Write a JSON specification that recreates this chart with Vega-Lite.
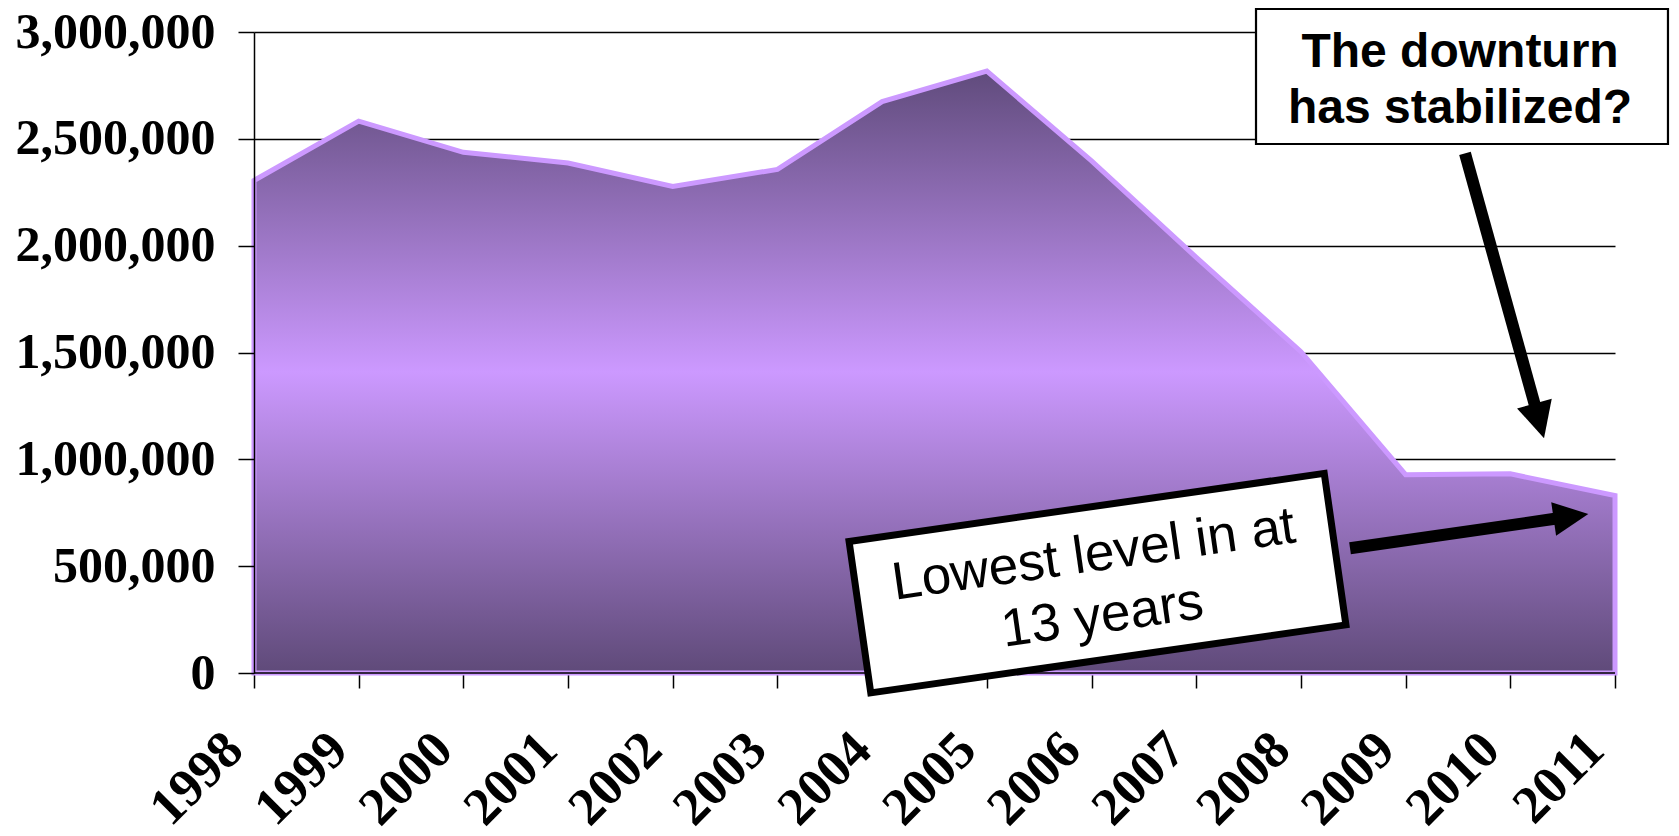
{
  "$schema": "https://vega.github.io/schema/vega-lite/v6.json",
  "width": 1361,
  "height": 641,
  "autosize": {"type": "none"},
  "padding": {"left": 254, "top": 32, "right": 64, "bottom": 163},
  "background": "white",
  "config": {"view": {"stroke": null}},
  "resolve": {"axis": {"x": "independent", "y": "independent"}},
  "layer": [
    {
      "data": {"values": [
        {"year": 1998, "value": 2305000},
        {"year": 1999, "value": 2583000},
        {"year": 2000, "value": 2437000},
        {"year": 2001, "value": 2387000},
        {"year": 2002, "value": 2277000},
        {"year": 2003, "value": 2357000},
        {"year": 2004, "value": 2674000},
        {"year": 2005, "value": 2817000},
        {"year": 2006, "value": 2397000},
        {"year": 2007, "value": 1945000},
        {"year": 2008, "value": 1504000},
        {"year": 2009, "value": 928000},
        {"year": 2010, "value": 932000},
        {"year": 2011, "value": 831000}
      ]},
      "mark": {
        "type": "area",
        "interpolate": "linear",
        "fill": {"gradient": "linear", "x1": 0, "y1": 0, "x2": 0, "y2": 1,
          "stops": [
            {"offset": 0, "color": "#604b7c"},
            {"offset": 0.5, "color": "#cc99ff"},
            {"offset": 1, "color": "#5f4a79"}
          ]},
        "stroke": "#cc99ff",
        "strokeWidth": 5,
        "strokeJoin": "miter"
      },
      "encoding": {
        "x": {
          "field": "year", "type": "quantitative",
          "scale": {"domain": [1998, 2011], "nice": false, "zero": false},
          "axis": {
            "orient": "bottom", "title": null, "grid": false, "domain": false,
            "values": [1998, 1999, 2000, 2001, 2002, 2003, 2004, 2005, 2006, 2007, 2008, 2009, 2010, 2011],
            "format": "d",
            "labelFont": "Liberation Serif", "labelFontWeight": "bold", "labelFontSize": 53, "labelColor": "black",
            "labelAngle": 315, "labelAlign": "right", "labelBaseline": "middle",
            "labelOffset": -20, "labelPadding": 53, "labelFlush": false, "labelOverlap": false, "labelBound": false,
            "labelLimit": 0,
            "ticks": true, "tickSize": 15, "tickColor": "black", "tickWidth": 1.5,
            "zindex": 0
          }
        },
        "y": {
          "field": "value", "type": "quantitative",
          "scale": {"domain": [0, 3000000], "nice": false, "zero": true},
          "axis": {
            "orient": "left", "title": null, "grid": false,
            "values": [0, 500000, 1000000, 1500000, 2000000, 2500000, 3000000],
            "format": ",d",
            "labelFont": "Liberation Serif", "labelFontWeight": "bold", "labelFontSize": 50, "labelColor": "black",
            "labelPadding": 23, "labelOverlap": false, "labelLimit": 0,
            "tickSize": 16, "tickColor": "black", "tickWidth": 1.5,
            "domain": true, "domainColor": "black", "domainWidth": 1.5,
            "zindex": 1
          }
        }
      }
    },
    {
      "data": {"values": [{"level": 0}]},
      "mark": {"type": "rule", "color": "black", "strokeWidth": 1.6},
      "encoding": {
        "y": {
          "field": "level", "type": "quantitative",
          "axis": {
            "orient": "left", "title": null, "grid": true, "gridColor": "black", "gridWidth": 1.3,
            "values": [0, 500000, 1000000, 1500000, 2000000, 2500000, 3000000],
            "labels": false, "ticks": false, "domain": false, "zindex": 0
          }
        }
      }
    },
    {
      "data": {"values": [
        {"x": 2009.567, "y": 2432295, "x2": 2010.241, "y2": 1242590},
        {"x": 2008.469, "y": 583620, "x2": 2010.442, "y2": 722808}
      ]},
      "mark": {"type": "rule", "color": "black", "strokeWidth": 12, "strokeCap": "butt"},
      "encoding": {
        "x": {"field": "x", "type": "quantitative", "axis": null},
        "y": {"field": "y", "type": "quantitative", "axis": null},
        "x2": {"field": "x2"},
        "y2": {"field": "y2"}
      }
    },
    {
      "data": {"values": [{"x": 2010.322, "y": 1098441}]},
      "mark": {"type": "point", "shape": "M0,0L0.18,0.36L-0.18,0.36Z", "size": 40000, "angle": 164.5,
        "filled": true, "fill": "black", "strokeWidth": 0, "opacity": 1},
      "encoding": {
        "x": {"field": "x", "type": "quantitative", "axis": null},
        "y": {"field": "y", "type": "quantitative", "axis": null}
      }
    },
    {
      "data": {"values": [{"x": 2010.745, "y": 744150}]},
      "mark": {"type": "point", "shape": "M0,0L0.17,0.35L-0.17,0.35Z", "size": 40000, "angle": 81.8,
        "filled": true, "fill": "black", "strokeWidth": 0, "opacity": 1},
      "encoding": {
        "x": {"field": "x", "type": "quantitative", "axis": null},
        "y": {"field": "y", "type": "quantitative", "axis": null}
      }
    },
    {
      "data": {"values": [{"x": 2007.571, "x2": 2011.506, "y": 3107646, "y2": 2475821}]},
      "mark": {"type": "rect", "fill": "white", "stroke": "black", "strokeWidth": 2.2, "opacity": 1},
      "encoding": {
        "x": {"field": "x", "type": "quantitative", "axis": null},
        "x2": {"field": "x2"},
        "y": {"field": "y", "type": "quantitative", "axis": null},
        "y2": {"field": "y2"}
      }
    },
    {
      "data": {"values": [{"x": 2009.52, "y": 2837599}]},
      "mark": {"type": "text", "text": ["The downturn", "has stabilized?"],
        "font": "Liberation Sans", "fontWeight": "bold", "fontSize": 48, "color": "black",
        "align": "center", "baseline": "alphabetic", "lineHeight": 56.6},
      "encoding": {
        "x": {"field": "x", "type": "quantitative", "axis": null},
        "y": {"field": "y", "type": "quantitative", "axis": null}
      }
    },
    {
      "data": {"values": [{"x": 2006.057, "y": 420515}]},
      "mark": {"type": "point", "shape": "M-2.4,-0.765L2.4,-0.765L2.4,0.765L-2.4,0.765Z", "size": 40000,
        "angle": 351.85, "filled": true, "fill": "white", "stroke": "black", "strokeWidth": 7,
        "strokeJoin": "miter", "opacity": 1, "fillOpacity": 1},
      "encoding": {
        "x": {"field": "x", "type": "quantitative", "axis": null},
        "y": {"field": "y", "type": "quantitative", "axis": null}
      }
    },
    {
      "data": {"values": [{"x": 2006.042, "y": 477847}]},
      "mark": {"type": "text", "text": ["Lowest level in at", "13 years"],
        "font": "Liberation Sans", "fontSize": 53, "color": "black",
        "align": "center", "baseline": "alphabetic", "lineHeight": 62, "angle": 351.85},
      "encoding": {
        "x": {"field": "x", "type": "quantitative", "axis": null},
        "y": {"field": "y", "type": "quantitative", "axis": null}
      }
    }
  ]
}
